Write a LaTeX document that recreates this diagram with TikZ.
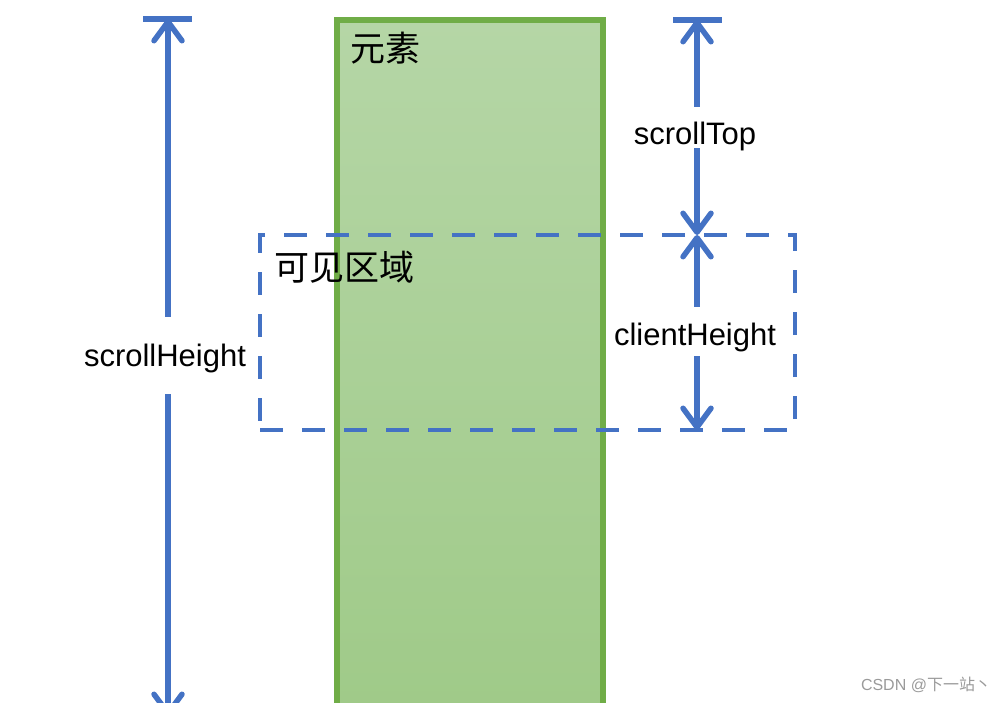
\documentclass[tikz,border=0pt]{standalone}
\usepackage{fontspec}
\setmainfont{Liberation Sans}
\newfontfamily\cjk{Noto Sans CJK SC}
\usetikzlibrary{arrows.meta}
\definecolor{blu}{HTML}{4472C4}
\definecolor{gborder}{HTML}{70AD47}
\definecolor{gtop}{HTML}{B5D6A6}
\definecolor{gbot}{HTML}{9FCA88}
\definecolor{wmark}{HTML}{9A9A9A}
\tikzset{
  barb/.tip={Straight Barb[round,length=19pt,width=28pt]},
  dimarrow/.style={draw=blu,line width=5.5pt,barb-barb},
  endbar/.style={draw=blu,line width=5.5pt},
  dimlabel/.style={fill=white,inner xsep=2pt,inner ysep=0pt,anchor=base,font=\fontsize{31}{31}\selectfont},
  elembox/.style={draw=gborder,line width=6pt,top color=gtop,bottom color=gbot,outer sep=0pt,inner sep=0pt,anchor=north west},
  viewbox/.style={draw=blu,line width=4.5pt,dash pattern=on 23pt off 19pt,outer sep=0pt,inner sep=0pt,anchor=north west},
  cjklabel/.style={inner sep=0pt,font=\cjk\fontsize{35}{35}\selectfont}
}
\begin{document}
\begin{tikzpicture}[x=1pt,y=-1pt]
\path[use as bounding box] (0,0) rectangle (1008,703);
\clip (0,0) rectangle (1008,703);
% element box
\node[elembox,minimum width=266pt,minimum height=700pt] (elem) at (337,20) {};
\node[cjklabel] (elemtxt) at (385,48) {元素};
% visible area
\node[viewbox,minimum width=535pt,minimum height=195pt] (view) at (260,235) {};
\node[cjklabel] (viewtxt) at (344,267) {可见区域};
% scrollHeight
\coordinate (hbl) at (143,19);
\coordinate (hbr) at (192,19);
\coordinate (htop) at (168,19);
\coordinate (hbot) at (168,716);
\draw[endbar] (hbl) -- (hbr);
\draw[dimarrow] (htop) -- (hbot);
\node[dimlabel,text height=49pt,text depth=28pt] (sh) at (165,366) {scrollHeight};
% scrollTop
\coordinate (tbl) at (673,20);
\coordinate (tbr) at (722,20);
\coordinate (ttop) at (697,20);
\coordinate (tmid) at (697,235);
\coordinate (cbot) at (697,430);
\draw[endbar] (tbl) -- (tbr);
\draw[dimarrow] (ttop) -- (tmid);
\node[dimlabel,text height=38pt,text depth=3pt] (st) at (695,145) {scrollTop};
% clientHeight
\draw[dimarrow] (tmid) -- (cbot);
\node[dimlabel,text height=38pt,text depth=11pt] (ch) at (695,345) {clientHeight};
% watermark
\node[inner sep=0pt,text=wmark,font=\fontsize{16}{16}\selectfont] (wm) at (926,685) {CSDN @{\cjk 下一站丶}};
\end{tikzpicture}
\end{document}
